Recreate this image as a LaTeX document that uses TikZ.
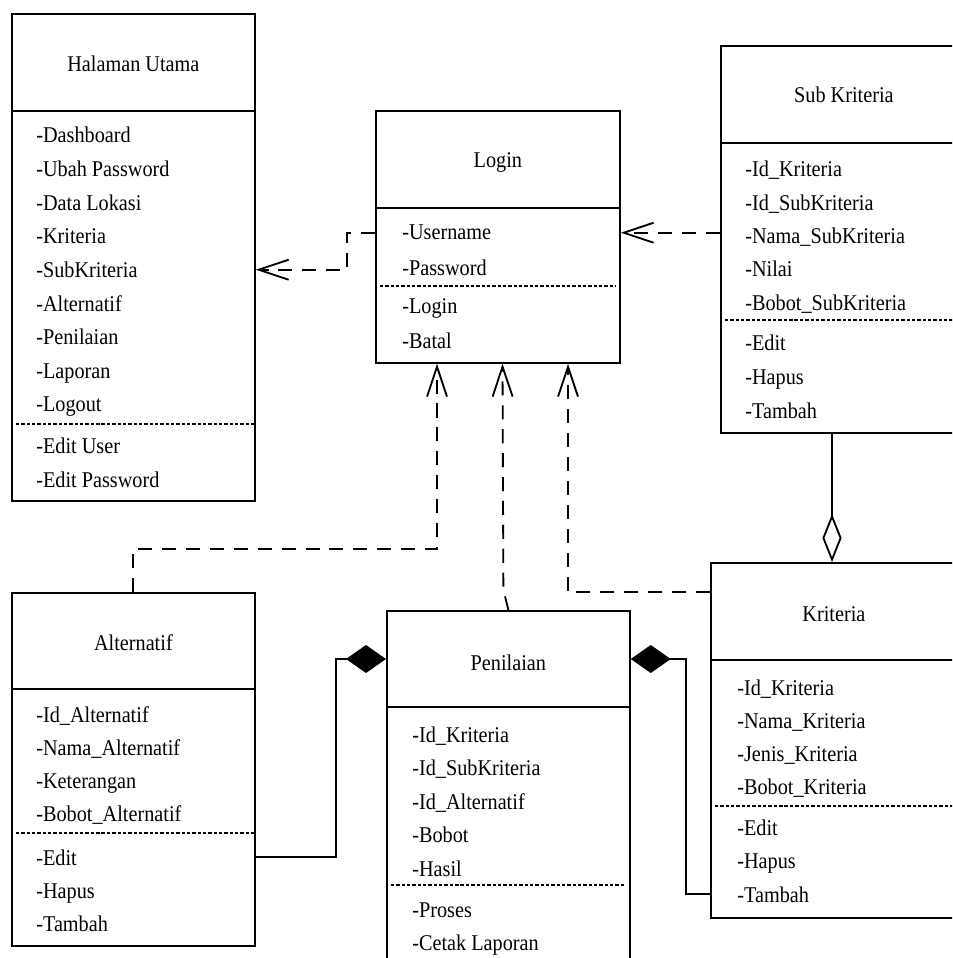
\documentclass[tikz,border=0pt]{standalone}
\usepackage{fontspec}
\setmainfont[FakeStretch=0.9]{Liberation Serif}
\usetikzlibrary{arrows.meta,calc,positioning}

\tikzset{
  classbox/.style={draw, line width=1.2pt, anchor=north west, inner sep=0pt},
  title/.style={anchor=base, inner sep=0pt, font=\fontsize{16}{19}\selectfont},
  member/.style={anchor=base west, inner sep=0pt, font=\fontsize{16}{19}\selectfont},
  sep/.style={line width=1.2pt},
  opsep/.style={line width=1.4pt, dash pattern=on 2.4pt off 1.4pt},
  dep/.style={line width=1.3pt, dash pattern=on 10pt off 7pt,
    -{Straight Barb[length=0.75cm,width=0.5cm]}},
  comp/.style={line width=1.3pt, -{Diamond[length=1cm,width=0.7cm]}},
  aggr/.style={line width=1.3pt, -{Diamond[open,fill=white,length=1.2cm,width=0.48cm]}},
}

\begin{document}
\begin{tikzpicture}[x=0.025cm, y=-0.025cm]
\useasboundingbox (0,0) rectangle (952,958);
\clip (0,0) rectangle (952,958);

% Halaman Utama
\node[classbox, minimum width=6.075cm, minimum height=12.175cm] (hal) at (11,13) {};
\node[title] (hal-t) at (hal.north |- 0,72) {Halaman Utama};
\draw[sep] (hal.west |- 0,111) -- (hal.east |- 0,111);
\foreach \m [count=\i] in {-Dashboard,-Ubah Password,-Data Lokasi,-Kriteria,-SubKriteria,-Alternatif,-Penilaian,-Laporan,-Logout}
  \node[member] (hal-\i) at (36,{143+(\i-1)*33.6}) {\m};
\draw[opsep] ($(hal.west |- 0,424)+(5,0)$) -- (hal.east |- 0,424);
\foreach \m [count=\i] in {-Edit User,-Edit Password}
  \node[member] (hal-op\i) at (36,{453+(\i-1)*34}) {\m};

% Login
\node[classbox, minimum width=6.1cm, minimum height=6.3cm] (login) at (375,110) {};
\node[title] (login-t) at (login.north |- 0,168) {Login};
\draw[sep] (login.west |- 0,208) -- (login.east |- 0,208);
\foreach \m [count=\i] in {-Username,-Password}
  \node[member] (login-\i) at (402,{240+(\i-1)*35}) {\m};
\draw[opsep] ($(login.west |- 0,286)+(5,0)$) -- ($(login.east |- 0,286)+(-5,0)$);
\foreach \m [count=\i] in {-Login,-Batal}
  \node[member] (login-op\i) at (402,{313+(\i-1)*35}) {\m};

% Sub Kriteria
\node[classbox, minimum width=6.15cm, minimum height=9.675cm] (sub) at (720,45) {};
\node[title] (sub-t) at (sub.north |- 0,103) {Sub Kriteria};
\draw[sep] (sub.west |- 0,143) -- (sub.east |- 0,143);
\foreach \m [count=\i] in {-Id\_Kriteria,-Id\_SubKriteria,-Nama\_SubKriteria,-Nilai,-Bobot\_SubKriteria}
  \node[member] (sub-\i) at (745,{177+(\i-1)*33.3}) {\m};
\draw[opsep] ($(sub.west |- 0,320)+(5,0)$) -- (sub.east |- 0,320);
\foreach \m [count=\i] in {-Edit,-Hapus,-Tambah}
  \node[member] (sub-op\i) at (745,{350+(\i-1)*34}) {\m};

% Kriteria
\node[classbox, minimum width=6.15cm, minimum height=8.875cm] (kri) at (710,562) {};
\node[title] (kri-t) at (kri.north |- 0,621) {Kriteria};
\draw[sep] (kri.west |- 0,660) -- (kri.east |- 0,660);
\foreach \m [count=\i] in {-Id\_Kriteria,-Nama\_Kriteria,-Jenis\_Kriteria,-Bobot\_Kriteria}
  \node[member] (kri-\i) at (737,{695+(\i-1)*33.3}) {\m};
\draw[opsep] ($(kri.west |- 0,806)+(5,0)$) -- (kri.east |- 0,806);
\foreach \m [count=\i] in {-Edit,-Hapus,-Tambah}
  \node[member] (kri-op\i) at (737,{835+(\i-1)*33.5}) {\m};

% Alternatif
\node[classbox, minimum width=6.075cm, minimum height=8.825cm] (alt) at (11,592) {};
\node[title] (alt-t) at (alt.north |- 0,650) {Alternatif};
\draw[sep] (alt.west |- 0,689) -- (alt.east |- 0,689);
\foreach \m [count=\i] in {-Id\_Alternatif,-Nama\_Alternatif,-Keterangan,-Bobot\_Alternatif}
  \node[member] (alt-\i) at (36,{722+(\i-1)*33}) {\m};
\draw[opsep] ($(alt.west |- 0,833)+(5,0)$) -- (alt.east |- 0,833);
\foreach \m [count=\i] in {-Edit,-Hapus,-Tambah}
  \node[member] (alt-op\i) at (36,{865+(\i-1)*33}) {\m};

% Penilaian
\node[classbox, minimum width=6.075cm, minimum height=9.25cm] (pen) at (386,610) {};
\node[title] (pen-t) at (pen.north |- 0,670) {Penilaian};
\draw[sep] (pen.west |- 0,707) -- (pen.east |- 0,707);
\foreach \m [count=\i] in {-Id\_Kriteria,-Id\_SubKriteria,-Id\_Alternatif,-Bobot,-Hasil}
  \node[member] (pen-\i) at (412,{742+(\i-1)*33.6}) {\m};
\draw[opsep] ($(pen.west |- 0,885)+(5,0)$) -- ($(pen.east |- 0,885)+(-5,0)$);
\foreach \m [count=\i] in {-Proses,-Cetak Laporan}
  \node[member] (pen-op\i) at (412,{917+(\i-1)*33}) {\m};

% ends of the connectors
\coordinate (lb1) at ($(login.south west)+(62,0)$);
\coordinate (lb2) at ($(login.south west)+(127.5,0)$);
\coordinate (lb3) at ($(login.south west)+(193,0)$);
\coordinate (kri-top) at ($(kri.north west)+(122,0)$);
\coordinate (pen-l) at ($(pen.north west)+(0,49)$);
\coordinate (pen-r) at ($(pen.north east)+(0,49)$);

% dependencies
\draw[dep] (login.west |- login-1) -- ++(-28,0) |- (hal.east |- hal-5);
\draw[dep] (sub.west |- login-1) -- (login.east |- login-1);
\draw[dep] (alt.north) -- ++(0,-43) -| (lb1);
\draw[dep] (pen.north) -- ++(-5,-20) -- (lb2);
\draw[dep] ($(kri.north west)+(0,30)$) -| (lb3);

% aggregation and compositions
\draw[aggr] (sub.south -| kri-top) -- (kri-top);
\draw[comp] (alt.east |- alt-op1) -| ($(pen-l)+(-50,0)$) -- (pen-l);
\draw[comp] (kri.west |- kri-op3) -| ($(pen-r)+(55,0)$) -- (pen-r);
\end{tikzpicture}
\end{document}
